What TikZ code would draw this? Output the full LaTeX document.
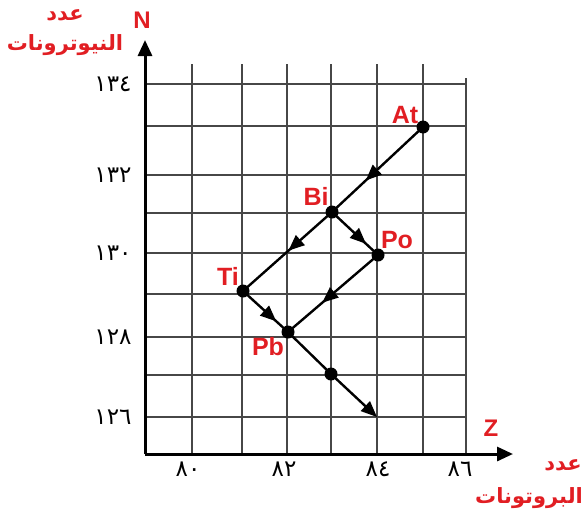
\documentclass[tikz,border=0pt]{standalone}
\usepackage{fontspec}
\setmainfont{Liberation Sans}
\newfontfamily\arabicfont[Script=Arabic]{DejaVu Sans}
\TeXXeTstate=1
\usetikzlibrary{arrows.meta,decorations.markings}
\definecolor{lblred}{RGB}{225,30,35}
\begin{document}
\begin{tikzpicture}[x=1pt,y=-1pt,
  gridline/.style={line width=1.5pt, black!72},
  axisline/.style={line width=3pt, -{Triangle[length=16pt,width=14pt]}},
  decay/.style={line width=2.4pt},
  elem/.style={text=lblred, font=\bfseries\fontsize{25}{25}\selectfont, inner sep=0pt},
  axname/.style={text=lblred, font=\bfseries\fontsize{24}{24}\selectfont, inner sep=0pt},
  arlbl/.style={text=lblred, font=\arabicfont\bfseries\fontsize{21}{21}\selectfont, inner sep=0pt},
  ticklbl/.style={font=\arabicfont\fontsize{23}{23}\selectfont, inner sep=0pt},
  midarrow/.style={postaction={decorate}, decoration={markings, mark=at position #1 with {\arrow{Triangle[length=16pt,width=13pt]}}}}
]
\useasboundingbox (0,0) rectangle (585,522);
% grid
\foreach \x in {192,242,287,331,377,423} \draw[gridline] (\x,64) -- (\x,454);
\draw[gridline] (466,78) -- (466,454);
\foreach \y in {84,126,175,213,253,294,337,375,417} \draw[gridline] (145,\y) -- (466,\y);
% axes
\coordinate (O) at (145,454);
\coordinate (Ntip) at (145,40);
\coordinate (Ztip) at (513,454);
\draw[axisline] (O) -- (Ntip);
\draw[axisline] (O) -- (Ztip);
% points
\coordinate (At) at (423,127);
\coordinate (Bi) at (332,212);
\coordinate (Po) at (378,255);
\coordinate (Ti) at (243,291);
\coordinate (Pb) at (288,332);
\coordinate (X) at (331,374);
\coordinate (E) at (377,417);
\draw[decay, midarrow=0.63] (At) -- (Bi);
\draw[decay, midarrow=0.74] (Bi) -- (Po);
\draw[decay, midarrow=0.49] (Bi) -- (Ti);
\draw[decay, midarrow=0.62] (Po) -- (Pb);
\draw[decay, midarrow=0.74] (Ti) -- (Pb);
\draw[decay] (Pb) -- (X);
\draw[decay, -{Triangle[length=16pt,width=13pt]}] (X) -- (E);
\foreach \p in {At,Bi,Po,Ti,Pb,X} \fill (\p) circle (6.5);
% element labels
\node[elem] (lAt) at (405,115) {At};
\node[elem] (lBi) at (316,196) {Bi};
\node[elem] (lPo) at (397,240) {Po};
\node[elem] (lTi) at (228,276) {Ti};
\node[elem] (lPb) at (268,347) {Pb};
% axis names
\node[axname] (lN) at (142,20) {N};
\node[axname] (lZ) at (491,428) {Z};
\node[arlbl] (nA) at (65,15) {\beginR عدد\endR};
\node[arlbl] (nB) at (65,45) {\beginR النيوترونات\endR};
\node[arlbl] (zA) at (563,465) {\beginR عدد\endR};
\node[arlbl] (zB) at (529,498) {\beginR البروتونات\endR};
% tick labels
\node[ticklbl] (t134) at (113,84) {١٣٤};
\node[ticklbl] (t132) at (113,175) {١٣٢};
\node[ticklbl] (t130) at (113,253) {١٣٠};
\node[ticklbl] (t128) at (113,337) {١٢٨};
\node[ticklbl] (t126) at (113,417) {١٢٦};
\node[ticklbl] (t80) at (188,469) {٨٠};
\node[ticklbl] (t82) at (284,469) {٨٢};
\node[ticklbl] (t84) at (378,469) {٨٤};
\node[ticklbl] (t86) at (460,469) {٨٦};
\end{tikzpicture}
\end{document}
